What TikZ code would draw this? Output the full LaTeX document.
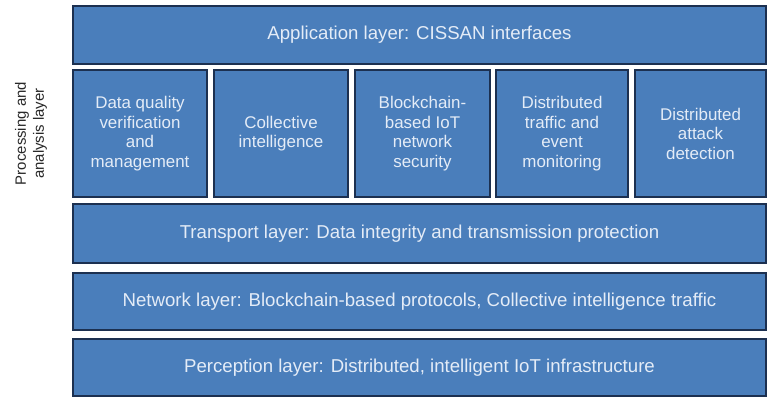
\documentclass[tikz,border=0pt]{standalone}
\usepackage{fontspec}
\setmainfont{Liberation Sans}
\definecolor{boxfill}{RGB}{74,126,187}
\definecolor{boxedge}{RGB}{28,48,80}
\definecolor{boxtext}{RGB}{228,236,247}
\definecolor{sidetext}{RGB}{40,40,40}
\tikzset{
  layerbox/.style={draw=boxedge, line width=2.2bp, fill=boxfill, text=boxtext,
    inner sep=0pt, font=\fontsize{18.7}{21}\selectfont, align=center},
  smallbox/.style={layerbox, minimum height=127bp, font=\fontsize{17}{19.6}\selectfont},
}
\begin{document}
\begin{tikzpicture}[x=1bp,y=-1bp]
\useasboundingbox[fill=white] (0,0) rectangle (769,398);
\node[layerbox, minimum width=693bp, minimum height=58bp] (app) at (419.5,35) {Application layer: CISSAN interfaces};
\node[smallbox, minimum width=134bp] (dq) at (140,133.5) {Data quality\\verification\\and\\management};
\node[smallbox, minimum width=134bp] (ci) at (281,133.5) {Collective\\intelligence};
\node[smallbox, minimum width=135bp] (bc) at (422.5,133.5) {Blockchain-\\based IoT\\network\\security};
\node[smallbox, minimum width=132bp] (dt) at (562,133.5) {Distributed\\traffic and\\event\\monitoring};
\node[smallbox, minimum width=131bp] (da) at (700.5,133.5) {Distributed\\attack\\detection};
\node[layerbox, minimum width=693bp, minimum height=59bp] (tr) at (419.5,233.5) {Transport layer: Data integrity and transmission protection};
\node[layerbox, minimum width=693bp, minimum height=57bp] (nw) at (419.5,301.5) {Network layer: Blockchain-based protocols, Collective intelligence traffic};
\node[layerbox, minimum width=693bp, minimum height=57bp] (pc) at (419.5,367.5) {Perception layer: Distributed, intelligent IoT infrastructure};
\node[rotate=90, align=center, text=sidetext, font=\fontsize{15}{18}\selectfont, inner sep=0pt] (side) at (31,133.5) {Processing and\\analysis layer};
\end{tikzpicture}
\end{document}
